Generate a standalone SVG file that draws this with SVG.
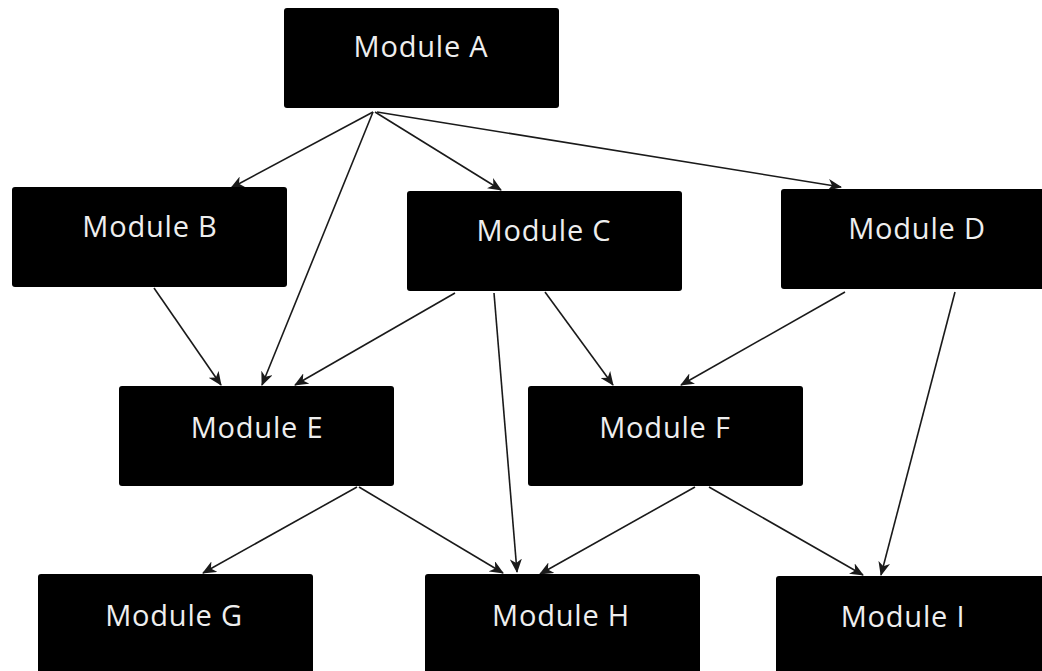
<svg xmlns="http://www.w3.org/2000/svg" width="1042" height="671" viewBox="0 0 1042 671">
<style>
.box{fill:#000;}
.lbl{font-family:"Open Sans",Lato,"Liberation Sans",sans-serif;font-size:29px;letter-spacing:0.8px;fill:#eee;text-anchor:middle;}
.edge{stroke:#1a1a1a;stroke-width:1.6;fill:none;marker-end:url(#ah);}
</style>
<defs>
<marker id="ah" viewBox="0 0 14 12" refX="13" refY="6" markerWidth="14" markerHeight="12" markerUnits="userSpaceOnUse" orient="auto">
<path d="M0,0 L14,6 L0,12 L4,6 Z" fill="#1a1a1a"/>
</marker>
</defs>
<rect width="1042" height="671" fill="#fff"/>
<g id="connectors">
<line class="edge" x1="373" y1="112" x2="231" y2="188"/>
<line class="edge" x1="373" y1="112" x2="262" y2="385"/>
<line class="edge" x1="375" y1="112" x2="501" y2="190"/>
<line class="edge" x1="377" y1="112" x2="841" y2="187"/>
<line class="edge" x1="154" y1="288" x2="221" y2="385"/>
<line class="edge" x1="455" y1="293" x2="295" y2="385"/>
<line class="edge" x1="494" y1="293" x2="517" y2="572"/>
<line class="edge" x1="545" y1="292" x2="613" y2="385"/>
<line class="edge" x1="845" y1="292" x2="681" y2="385"/>
<line class="edge" x1="955" y1="292" x2="881" y2="575"/>
<line class="edge" x1="357" y1="487" x2="203" y2="573"/>
<line class="edge" x1="359" y1="487" x2="503" y2="573"/>
<line class="edge" x1="695" y1="487" x2="540" y2="574"/>
<line class="edge" x1="709" y1="487" x2="863" y2="575"/>
</g>
<g id="moduleA"><rect class="box" x="284" y="8" width="275" height="100" rx="3"/><text class="lbl" x="421" y="57">Module A</text></g>
<g id="moduleB"><rect class="box" x="12" y="187" width="275" height="100" rx="3"/><text class="lbl" x="150" y="237">Module B</text></g>
<g id="moduleC"><rect class="box" x="407" y="191" width="275" height="100" rx="3"/><text class="lbl" x="544" y="241">Module C</text></g>
<g id="moduleD"><rect class="box" x="781" y="189" width="275" height="100" rx="3"/><text class="lbl" x="917" y="239">Module D</text></g>
<g id="moduleE"><rect class="box" x="119" y="386" width="275" height="100" rx="3"/><text class="lbl" x="257" y="438">Module E</text></g>
<g id="moduleF"><rect class="box" x="528" y="386" width="275" height="100" rx="3"/><text class="lbl" x="665" y="438">Module F</text></g>
<g id="moduleG"><rect class="box" x="38" y="574" width="275" height="110" rx="3"/><text class="lbl" x="174" y="626">Module G</text></g>
<g id="moduleH"><rect class="box" x="425" y="574" width="275" height="110" rx="3"/><text class="lbl" x="561" y="626">Module H</text></g>
<g id="moduleI"><rect class="box" x="776" y="576" width="275" height="110" rx="3"/><text class="lbl" x="903" y="627">Module I</text></g>
</svg>
